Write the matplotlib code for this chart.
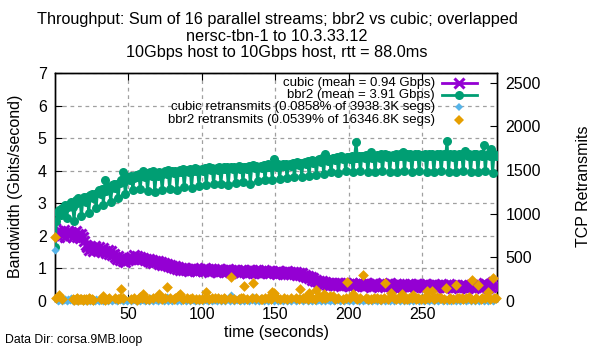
import matplotlib
matplotlib.use("Agg")
import matplotlib.pyplot as plt
import numpy as np

plt.rcParams["font.family"] = ["Liberation Sans", "DejaVu Sans"]

# throughput in Gbits/second, one sample per second (t = 0 .. 300)
cubic_gbps = [
    2.50, 2.08, 2.15, 1.98, 2.12, 2.04, 2.18, 1.96, 2.10, 2.14,
    2.02, 2.12, 1.95, 2.08, 2.15, 1.98, 2.05, 1.92, 2.06, 1.98,
    1.85, 1.72, 1.66, 1.58, 1.70, 1.62, 1.55, 1.68, 1.60, 1.52,
    1.65, 1.58, 1.50, 1.62, 1.55, 1.48, 1.58, 1.45, 1.52, 1.40,
    1.45, 1.35, 1.30, 1.38, 1.25, 1.32, 1.22, 1.30, 1.20, 1.28,
    1.25, 1.30, 1.35, 1.28, 1.40, 1.32, 1.38, 1.30, 1.36, 1.28,
    1.32, 1.25, 1.30, 1.22, 1.28, 1.20, 1.26, 1.18, 1.24, 1.20,
    1.22, 1.15, 1.20, 1.12, 1.18, 1.10, 1.15, 1.08, 1.12, 1.05,
    1.08, 1.02, 1.06, 0.98, 1.04, 0.96, 1.02, 0.94, 1.00, 0.96,
    0.98, 0.92, 0.99, 0.94, 1.00, 0.93, 0.97, 0.91, 0.98, 0.95,
    0.96, 0.92, 1.00, 0.94, 0.98, 0.90, 0.97, 0.93, 0.99, 0.92,
    0.95, 0.90, 0.98, 0.93, 0.96, 0.89, 0.95, 0.92, 0.97, 0.90,
    0.94, 0.88, 0.96, 0.91, 0.95, 0.87, 0.93, 0.90, 0.96, 0.88,
    0.93, 0.87, 0.95, 0.90, 0.94, 0.86, 0.92, 0.89, 0.95, 0.87,
    0.92, 0.86, 0.94, 0.88, 0.93, 0.85, 0.91, 0.88, 0.93, 0.86,
    0.90, 0.84, 0.92, 0.86, 0.90, 0.83, 0.89, 0.85, 0.91, 0.84,
    0.88, 0.82, 0.90, 0.84, 0.88, 0.81, 0.86, 0.80, 0.85, 0.78,
    0.80, 0.74, 0.78, 0.70, 0.74, 0.66, 0.70, 0.62, 0.66, 0.58,
    0.62, 0.55, 0.60, 0.52, 0.58, 0.50, 0.56, 0.49, 0.55, 0.50,
    0.54, 0.48, 0.56, 0.50, 0.55, 0.47, 0.53, 0.49, 0.56, 0.48,
    0.52, 0.46, 0.55, 0.49, 0.53, 0.45, 0.52, 0.48, 0.56, 0.47,
    0.51, 0.45, 0.54, 0.48, 0.52, 0.44, 0.53, 0.47, 0.55, 0.46,
    0.50, 0.45, 0.53, 0.47, 0.52, 0.44, 0.51, 0.46, 0.54, 0.45,
    0.50, 0.44, 0.52, 0.47, 0.51, 0.43, 0.50, 0.46, 0.53, 0.45,
    0.49, 0.44, 0.52, 0.46, 0.50, 0.43, 0.51, 0.45, 0.52, 0.44,
    0.49, 0.43, 0.51, 0.46, 0.50, 0.42, 0.49, 0.45, 0.52, 0.44,
    0.48, 0.42, 0.50, 0.45, 0.49, 0.41, 0.48, 0.44, 0.51, 0.43,
    0.48, 0.42, 0.50, 0.44, 0.49, 0.41, 0.47, 0.43, 0.50, 0.42,
    0.47, 0.41, 0.50, 0.44, 0.48, 0.40, 0.47, 0.43, 0.52, 0.42,
    0.48, 0.42, 0.55, 0.45, 0.50, 0.41, 0.52, 0.44, 0.58, 0.46,
    0.50,
]

bbr2_gbps = [
    1.67, 2.45, 2.70, 2.78, 2.65, 2.85, 2.80, 2.95, 2.55, 2.90,
    2.98, 3.05, 2.90, 2.45, 3.10, 3.02, 3.15, 3.08, 2.60, 3.12,
    3.20, 3.05, 3.18, 2.70, 3.25, 3.30, 3.15, 3.28, 2.85, 3.35,
    3.40, 3.30, 3.45, 2.95, 3.70, 3.38, 3.50, 3.42, 3.05, 3.55,
    3.60, 3.48, 3.58, 3.15, 3.62, 3.70, 3.95, 3.65, 3.30, 3.75,
    3.80, 3.72, 3.85, 3.40, 3.78, 3.88, 3.82, 3.90, 3.45, 3.85,
    4.00, 3.80, 3.92, 3.38, 3.88, 3.95, 3.85, 3.98, 3.35, 3.90,
    3.85, 3.95, 3.88, 3.40, 3.92, 3.98, 3.90, 4.02, 3.45, 3.95,
    3.98, 3.92, 4.00, 3.42, 3.96, 4.02, 3.95, 4.05, 3.50, 3.98,
    4.02, 3.95, 4.05, 3.48, 4.00, 4.08, 3.98, 4.06, 3.52, 4.02,
    4.05, 3.98, 4.08, 3.55, 4.04, 4.10, 4.02, 4.08, 3.58, 4.06,
    4.08, 4.02, 4.10, 3.60, 4.06, 4.12, 4.05, 4.10, 3.55, 4.08,
    4.10, 4.05, 4.12, 3.62, 4.08, 4.15, 4.06, 4.12, 3.65, 4.10,
    4.12, 4.06, 4.15, 3.60, 4.10, 4.18, 4.08, 4.14, 3.68, 4.12,
    4.15, 4.08, 4.18, 3.70, 4.12, 4.20, 4.10, 4.16, 3.72, 4.35,
    4.18, 4.12, 4.20, 3.75, 4.15, 4.22, 4.14, 4.20, 3.78, 4.18,
    4.22, 4.15, 4.25, 3.80, 4.20, 4.28, 4.18, 4.24, 3.82, 4.25,
    4.28, 4.22, 4.30, 3.85, 4.26, 4.32, 4.25, 4.30, 3.88, 4.32,
    4.35, 4.28, 4.38, 3.90, 4.50, 4.40, 4.30, 4.36, 3.95, 4.38,
    4.40, 4.33, 4.42, 3.92, 4.38, 4.45, 4.35, 4.40, 3.98, 4.42,
    4.42, 4.35, 4.45, 3.95, 4.40, 4.88, 4.38, 4.44, 3.98, 4.45,
    4.45, 4.38, 4.48, 3.96, 4.42, 4.58, 4.40, 4.46, 3.95, 4.48,
    4.46, 4.40, 4.50, 3.98, 4.44, 4.50, 4.42, 4.48, 3.96, 4.46,
    4.48, 4.42, 4.50, 3.95, 4.45, 4.52, 4.44, 4.58, 3.98, 4.48,
    4.50, 4.42, 4.52, 3.96, 4.46, 4.50, 4.44, 4.50, 3.98, 4.48,
    4.48, 4.42, 4.52, 3.95, 4.46, 4.50, 4.45, 4.52, 3.96, 4.48,
    4.50, 4.44, 4.52, 3.98, 4.46, 4.52, 4.45, 4.92, 3.96, 4.50,
    4.48, 4.42, 4.50, 3.95, 4.46, 4.52, 4.44, 4.50, 3.98, 4.62,
    4.50, 4.44, 4.52, 3.96, 4.46, 4.50, 4.45, 4.52, 3.95, 4.48,
    4.52, 4.44, 4.78, 3.98, 4.48, 4.52, 4.45, 4.68, 3.92, 4.50,
    4.45,
]

# retransmitted segments per second (right axis); None = no sample drawn
cubic_retx = [
    580, 20, 0, 15, 30, 0, 10, 25, 0, 20,
    10, 30, 0, 20, 15, 0, 25, 10, 30, 0,
    15, 0, 20, 10, 0, 25, 5, 0, 20, 10,
    0, 15, 30, 0, 10, 20, 0, 25, 15, 0,
    20, 10, 0, 30, 15, 25, 0, 10, 20, 0,
    15, 25, 0, 10, 30, 0, 20, 15, 0, 25,
    10, 0, 20, 15, 0, 30, 10, 0, 25, 15,
    0, 20, 10, 30, 0, 15, 45, 0, 20, 10,
    0, 25, 15, 0, 20, 30, 0, 10, 25, 0,
    15, 20, 0, 30, 10, 0, 25, 15, 0, 20,
    10, 0, 30, 15, 0, 20, 25, 0, 10, 15,
    0, 20, 30, 0, 15, 10, 0, 25, 20, 0,
    67, 15, 0, 20, 10, 30, 0, 15, 25, 0,
    20, 10, 0, 25, 15, 45, 0, 20, 10, 0,
    30, 15, 0, 20, 25, 0, 10, 15, 30, 0,
    20, 10, 0, 25, 15, 0, 30, 20, 0, 10,
    15, 0, 25, 20, 0, 10, 30, 30, 15, 0,
    20, 25, 0, 10, 15, 0, 30, 20, 0, 10,
    25, 0, 15, 20, 0, 30, 10, 0, 25, 15,
    0, 20, 10, 30, 0, 15, 25, 0, 20, 10,
    0, 30, 15, 0, 20, 10, 25, 0, 15, 20,
    0, 10, 30, 0, 15, 25, 0, 20, 10, 0,
    25, 15, 0, 20, 30, 0, 10, 15, 0, 25,
    20, 0, 10, 30, 15, 0, 25, 20, 0, 10,
    15, 0, 30, 20, 0, 10, 25, 15, 0, 20,
    10, 0, 25, 15, 30, 0, 20, 10, 0, 25,
    15, 0, 20, 30, 0, 10, 25, 0, 15, 20,
    0, 30, 10, 0, 25, 15, 0, 20, 10, 30,
    0, 15, 25, 0, 20, 10, 0, 30, 15, 0,
    20, 25, 0, 10, 15, 0, 30, 20, 0, 10,
    25,
]

bbr2_retx = [
    730, 30, None, 64, None, 20, None, None, None, None,
    None, None, 20, 15, 25, 30, 10, 25, 20, 15,
    25, 20, 15, 30, 20, 20, 15, None, None, None,
    None, 20, 30, 56, 15, None, 25, 40, None, None,
    None, 30, None, 20, 40, 134, 30, None, None, None,
    None, None, 20, None, 35, None, 15, 40, 50, 30,
    78, None, 20, None, 25, None, None, 30, None, None,
    40, 78, None, 20, None, 30, 157, None, 40, None,
    None, 25, 40, None, 60, 78, 50, 20, None, None,
    30, None, 25, 30, None, None, 20, None, 20, None,
    25, None, 40, 100, None, 20, None, 30, None, 30,
    None, 30, None, 20, None, 35, 20, None, None, 40,
    280, None, 25, None, None, 20, None, 40, 30, 168,
    None, 20, None, None, 30, 202, None, 30, None, None,
    25, 20, None, 35, None, 40, None, 20, 100, 90,
    None, 30, None, 20, None, None, 30, None, 25, None,
    None, 40, None, None, 30, None, 20, 134, None, 30,
    40, None, 25, 90, None, 30, None, 20, 123, None,
    60, None, 40, 80, 30, 50, None, 60, None, 60,
    None, 25, None, 30, None, None, 20, None, 40, 213,
    None, 30, None, 78, None, 40, 20, None, 35, None,
    302, None, 30, 20, None, 25, None, 40, None, 30,
    None, 20, 20, None, 30, 202, None, 25, None, 90,
    None, 30, 20, None, 40, 30, 80, None, 25, None,
    20, 30, None, 40, 70, None, 25, 40, None, 20,
    None, 30, 20, 112, None, 40, None, 112, 25, 30,
    50, None, 30, 40, None, 20, 145, None, 20, 35,
    None, 25, None, 180, 30, 30, None, 40, 20, None,
    30, None, 45, 25, 235, None, 20, 35, 180, None,
    20, 40, None, 30, None, 100, 25, None, 258, 30,
    40,
]

time_s = np.arange(len(cubic_gbps))

title_lines = [
    "Throughput: Sum of 16 parallel streams; bbr2 vs cubic; overlapped",
    "nersc-tbn-1 to 10.3.33.12",
    "10Gbps host to 10Gbps host, rtt = 88.0ms",
]
legend_labels = [
    "cubic (mean = 0.94 Gbps)",
    "bbr2 (mean = 3.91 Gbps)",
    "cubic retransmits (0.0858% of 3938.3K segs)",
    "bbr2 retransmits (0.0539% of 16346.8K segs)",
]

PURPLE = "#9400d3"
GREEN = "#009e73"
BLUE = "#56b4e9"
ORANGE = "#e69f00"
Y2MAX = 2610

fig = plt.figure(figsize=(6, 3.5), dpi=100)
ax = fig.add_axes([55 / 600, 49 / 350, 442 / 600, 228 / 350])
ax2 = ax.twinx()
ax.set_zorder(ax2.get_zorder() + 1)
ax.patch.set_visible(False)

ax.plot(time_s, cubic_gbps, color=PURPLE, lw=2, marker="x", ms=6.5, mew=2.2, zorder=3)
ax.plot(time_s, bbr2_gbps, color=GREEN, lw=2, marker="o", ms=6.5, mew=0, zorder=4)
# retransmits belong to the right axis; scaled into left-axis units so they sit in front
cub_r = np.array(cubic_retx, dtype=float) * 7 / Y2MAX
bbr_r = np.array(bbr2_retx, dtype=float) * 7 / Y2MAX
ax.scatter(time_s, cub_r, marker="D", s=17, color=BLUE, linewidths=0, zorder=5, clip_on=False)
ax.scatter(time_s, bbr_r, marker="D", s=30, color=ORANGE, linewidths=0, zorder=6, clip_on=False)

ax.set_xlim(0, 301)
ax.set_ylim(0, 7)
ax2.set_ylim(0, Y2MAX)

ax.set_xticks([50, 100, 150, 200, 250])
ax.set_yticks(range(0, 8))
ax2.set_yticks(range(0, 2501, 500))
ax.grid(True, color="#a0a0a0", linestyle=(0, (3, 3)), lw=0.9)
ax.tick_params(axis="x", direction="in", top=True, length=5, labelsize=11.5, pad=4)
ax.tick_params(axis="y", direction="in", length=5, labelsize=11.5, pad=6)
ax2.tick_params(axis="y", direction="in", length=5, labelsize=11.5, pad=6)
for a in (ax, ax2):
    for s in a.spines.values():
        s.set_linewidth(1.0)

# legend: right aligned text with sample on the right, gnuplot style
rows_y = [0.956, 0.9035, 0.8487, 0.796]
for i, (lab, yy) in enumerate(zip(legend_labels, rows_y)):
    ax.text(0.86, yy, lab, transform=ax.transAxes, ha="right", va="center", fontsize=9.5)
    if i == 0:
        ax.plot([0.8756, 0.9548], [yy, yy], transform=ax.transAxes, color=PURPLE, lw=2, clip_on=False)
        ax.plot([0.914], [yy], transform=ax.transAxes, color=PURPLE, marker="x", ms=6.5, mew=2.2, clip_on=False)
    elif i == 1:
        ax.plot([0.8756, 0.9548], [yy, yy], transform=ax.transAxes, color=GREEN, lw=2, clip_on=False)
        ax.plot([0.914], [yy], transform=ax.transAxes, color=GREEN, marker="o", ms=6.5, mew=0, clip_on=False)
    elif i == 2:
        ax.plot([0.914], [yy], transform=ax.transAxes, color=BLUE, marker="D", ms=4, mew=0, clip_on=False)
    else:
        ax.plot([0.914], [yy], transform=ax.transAxes, color=ORANGE, marker="D", ms=5.2, mew=0, clip_on=False)

for txt, yy in zip(title_lines, [0.943, 0.897, 0.851]):
    fig.text(277 / 600, yy, txt, ha="center", va="center", fontsize=11.7)

fig.text(16 / 600, 0.469, "Bandwidth (Gbits/second)", rotation=90, ha="center", va="center", fontsize=11.5)
fig.text(583 / 600, 0.469, "TCP Retransmits", rotation=90, ha="center", va="center", fontsize=11.5)
fig.text(277 / 600, (350 - 332) / 350, "time (seconds)", ha="center", va="center", fontsize=11.5)
fig.text(5 / 600, (350 - 340) / 350, "Data Dir: corsa.9MB.loop", ha="left", va="center", fontsize=8.8)

fig.savefig("out.png", dpi=100)
